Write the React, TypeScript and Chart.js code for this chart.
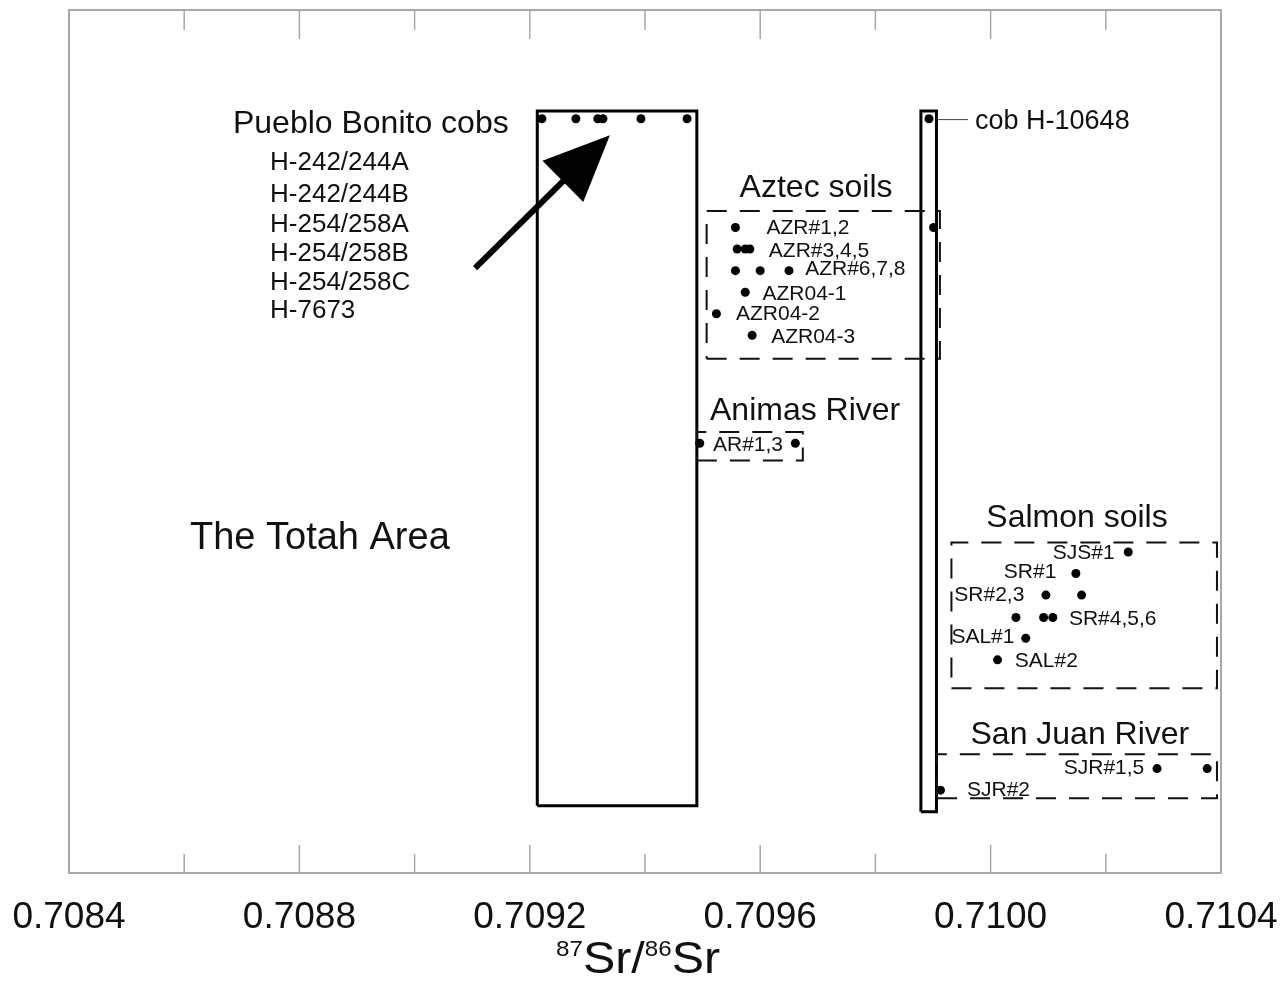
import React, { useEffect, useRef } from "react";
import { Chart, registerables } from "chart.js";

Chart.register(...registerables);

// ---- axis ----
const X_MIN = 0.7084;
const X_MAX = 0.7104;
const X_STEP = 0.0002;
const Y_MIN = 0;
const Y_MAX = 100;

// ---- sample values: [87Sr/86Sr, vertical position] ----
const pbCobs = [
  [0.709221, 87.4], [0.70928, 87.4], [0.709318, 87.4],
  [0.709327, 87.4], [0.709393, 87.4], [0.709473, 87.4],
];
const cobH10648 = [[0.709893, 87.4]];
const aztecSoils = [
  [0.709557, 74.8], [0.709901, 74.8],
  [0.70956, 72.3], [0.709574, 72.3], [0.709582, 72.3],
  [0.709557, 69.8], [0.7096, 69.8], [0.70965, 69.8],
  [0.709574, 67.3],
  [0.709524, 64.8],
  [0.709586, 62.3],
];
const animasRiver = [[0.709495, 49.8], [0.709661, 49.8]];
const salmonSoils = [
  [0.710239, 37.2],
  [0.710148, 34.7],
  [0.710096, 32.2], [0.710158, 32.2],
  [0.710044, 29.6], [0.710092, 29.6], [0.710108, 29.6],
  [0.710061, 27.2],
  [0.710012, 24.7],
];
const sanJuanRiver = [[0.710289, 12.1], [0.710376, 12.1], [0.709913, 9.6]];

// ---- ranges (solid) and groups (dashed): [xMin, xMax, yMin, yMax] ----
const pbRange = [0.709213, 0.70949, 7.8, 88.3];
const cobRange = [0.709879, 0.709906, 7.1, 88.3];
const aztecBox = [0.709507, 0.709912, 59.6, 76.7];
const animasBox = [0.70949, 0.709674, 47.8, 51.1];
const salmonBox = [0.709932, 0.710393, 21.4, 38.3];
const sanJuanBox = [0.709907, 0.710393, 8.66, 13.75];
const cobLeader = [[0.709906, 87.3], [0.709961, 87.3]];

// ---- text ----
const groupTitles = [
  { text: "Pueblo Bonito cobs", x: 0.708924, y: 86.8 },
  { text: "Aztec soils", x: 0.709697, y: 79.3 },
  { text: "Animas River", x: 0.709678, y: 53.5 },
  { text: "Salmon soils", x: 0.71015, y: 41.1 },
  { text: "San Juan River", x: 0.710155, y: 16.0 },
];
const cobList = ["H-242/244A", "H-242/244B", "H-254/258A", "H-254/258B", "H-254/258C", "H-7673"];
const cobListX = 0.708749;
const cobListY = [82.3, 78.6, 75.1, 71.7, 68.4, 65.1];
const sampleLabels = [
  { text: "AZR#1,2", x: 0.709611, y: 74.7 },
  { text: "AZR#3,4,5", x: 0.709615, y: 72.1 },
  { text: "AZR#6,7,8", x: 0.709678, y: 70.0 },
  { text: "AZR04-1", x: 0.709604, y: 67.1 },
  { text: "AZR04-2", x: 0.709558, y: 64.7 },
  { text: "AZR04-3", x: 0.709619, y: 62.1 },
  { text: "AR#1,3", x: 0.709518, y: 49.6 },
  { text: "SJS#1", x: 0.710108, y: 37.1 },
  { text: "SR#1", x: 0.710023, y: 34.8 },
  { text: "SR#2,3", x: 0.709937, y: 32.2 },
  { text: "SR#4,5,6", x: 0.710136, y: 29.4 },
  { text: "SAL#1", x: 0.709932, y: 27.3 },
  { text: "SAL#2", x: 0.710042, y: 24.5 },
  { text: "SJR#1,5", x: 0.710127, y: 12.2 },
  { text: "SJR#2", x: 0.709959, y: 9.6 },
];
const cobLabel = { text: "cob H-10648", x: 0.709973, y: 87.1 };
const areaLabel = { text: "The Totah Area", x: 0.70861, y: 38.8 };
const arrowFrom = [0.709105, 70.1];
const arrowTo = [0.709339, 85.5];

const FONT = '"Liberation Sans", Arial, Helvetica, sans-serif';

const toXY = (arr: number[][]) => arr.map(([x, y]) => ({ x, y }));
const rectPath = (r: number[]) => [
  { x: r[0], y: r[2] }, { x: r[1], y: r[2] }, { x: r[1], y: r[3] },
  { x: r[0], y: r[3] }, { x: r[0], y: r[2] },
];

const overlayPlugin = {
  id: "overlay",
  afterDatasetsDraw(chart: any) {
    const ctx = chart.ctx;
    const xs = chart.scales.x;
    const ys = chart.scales.y;
    const px = (v: number) => xs.getPixelForValue(v);
    const py = (v: number) => ys.getPixelForValue(v);
    ctx.save();
    ctx.fillStyle = "#111";
    ctx.textBaseline = "middle";

    const text = (t: string, x: number, y: number, size: number, align: string) => {
      ctx.font = `${size}px ${FONT}`;
      ctx.textAlign = align;
      ctx.fillText(t, px(x), py(y));
    };
    groupTitles.forEach((g) => text(g.text, g.x, g.y, 32, "center"));
    cobList.forEach((t, i) => text(t, cobListX, cobListY[i], 26, "left"));
    sampleLabels.forEach((s) => text(s.text, s.x, s.y, 21, "left"));
    text(cobLabel.text, cobLabel.x, cobLabel.y, 27, "left");
    text(areaLabel.text, areaLabel.x, areaLabel.y, 38, "left");

    // arrow
    const x0 = px(arrowFrom[0]), y0 = py(arrowFrom[1]);
    const x1 = px(arrowTo[0]), y1 = py(arrowTo[1]);
    const ang = Math.atan2(y1 - y0, x1 - x0);
    const headLen = 66, headHalf = 29;
    const bx = x1 - headLen * Math.cos(ang), by = y1 - headLen * Math.sin(ang);
    ctx.strokeStyle = "#000";
    ctx.lineWidth = 6;
    ctx.beginPath();
    ctx.moveTo(x0, y0);
    ctx.lineTo(bx + 5 * Math.cos(ang), by + 5 * Math.sin(ang));
    ctx.stroke();
    ctx.fillStyle = "#000";
    ctx.beginPath();
    ctx.moveTo(x1, y1);
    ctx.lineTo(bx + headHalf * Math.sin(ang), by - headHalf * Math.cos(ang));
    ctx.lineTo(bx - headHalf * Math.sin(ang), by + headHalf * Math.cos(ang));
    ctx.closePath();
    ctx.fill();
    ctx.restore();
  },
  afterDraw(chart: any) {
    const ctx = chart.ctx;
    const { left, right, top, bottom } = chart.chartArea;
    const xs = chart.scales.x;
    ctx.save();
    ctx.strokeStyle = "#a8a8a8";
    ctx.lineWidth = 2;
    ctx.strokeRect(left, top, right - left, bottom - top);
    ctx.lineWidth = 1.5;
    xs.ticks.forEach((t: any, i: number) => {
      const x = xs.getPixelForValue(t.value);
      if (x <= left + 1 || x >= right - 1) return;
      const major = i % 2 === 0;
      ctx.beginPath();
      ctx.moveTo(x, bottom);
      ctx.lineTo(x, bottom - (major ? 28 : 19));
      ctx.moveTo(x, top);
      ctx.lineTo(x, top + (major ? 29 : 20));
      ctx.stroke();
    });
    // axis title 87Sr/86Sr
    const parts = [
      { t: "87", sup: true }, { t: "Sr/", sup: false },
      { t: "86", sup: true }, { t: "Sr", sup: false },
    ];
    const sx = 1.1;
    const fontFor = (sup: boolean) => `${sup ? 22 : 44}px ${FONT}`;
    let total = 0;
    parts.forEach((p) => { ctx.font = fontFor(p.sup); total += ctx.measureText(p.t).width * sx; });
    let cx = (left + right) / 2 - 7 - total / 2;
    const base = bottom + 100;
    ctx.fillStyle = "#111";
    ctx.textBaseline = "alphabetic";
    ctx.textAlign = "left";
    parts.forEach((p) => {
      ctx.font = fontFor(p.sup);
      ctx.save();
      ctx.translate(cx, p.sup ? base - 17 : base);
      ctx.scale(sx, 1);
      ctx.fillText(p.t, 0, 0);
      ctx.restore();
      cx += ctx.measureText(p.t).width * sx;
    });
    ctx.restore();
  },
};

export default function App() {
  const ref = useRef<HTMLCanvasElement>(null);
  useEffect(() => {
    if (!ref.current) return;
    const solid = (data: any[], w: number) => ({
      data, showLine: true, borderColor: "#000", borderWidth: w,
      pointRadius: 0, fill: false, tension: 0,
    });
    const dashed = (data: any[]) => ({
      data, showLine: true, borderColor: "#111", borderWidth: 2,
      borderDash: [20, 13], pointRadius: 0, fill: false, tension: 0,
    });
    const dots = (data: any[]) => ({
      data, showLine: false, pointRadius: 4.5, pointBackgroundColor: "#000",
      pointBorderColor: "#000", pointBorderWidth: 0,
    });
    const chart = new Chart(ref.current, {
      type: "scatter",
      data: {
        datasets: [
          dashed(rectPath(aztecBox)),
          dashed(rectPath(animasBox)),
          dashed(rectPath(salmonBox)),
          dashed(rectPath(sanJuanBox)),
          solid(rectPath(pbRange), 3),
          solid(rectPath(cobRange), 3),
          { ...solid(toXY(cobLeader), 1), borderColor: "#444" },
          dots(toXY(pbCobs)),
          dots(toXY(cobH10648)),
          dots(toXY(aztecSoils)),
          dots(toXY(animasRiver)),
          dots(toXY(salmonSoils)),
          dots(toXY(sanJuanRiver)),
        ] as any,
      },
      options: {
        animation: false,
        responsive: false,
        layout: { padding: { left: 69, right: 65, top: 10, bottom: 0 } },
        plugins: { legend: { display: false }, tooltip: { enabled: false }, title: { display: false } },
        scales: {
          x: {
            type: "linear",
            position: "bottom",
            min: X_MIN,
            max: X_MAX,
            grid: { display: false, drawTicks: false },
            border: { display: false },
            ticks: {
              stepSize: X_STEP,
              autoSkip: false,
              maxRotation: 0,
              padding: 23,
              color: "#111",
              font: { family: FONT, size: 37, lineHeight: 1.2 },
              callback: (v: any, i: number) => (i % 2 === 0 ? Number(v).toFixed(4) : ""),
            },
            afterFit: (s: any) => {
              s.height = 109;
              s.paddingLeft = 0;
              s.paddingRight = 0;
            },
          },
          y: { type: "linear", display: false, min: Y_MIN, max: Y_MAX },
        },
      } as any,
      plugins: [overlayPlugin],
    });
    return () => chart.destroy();
  }, []);
  return (
    <div style={{ position: "fixed", left: 0, top: 0, width: 1286, height: 982, background: "#fff" }}>
      <canvas ref={ref} width={1286} height={982} />
    </div>
  );
}
